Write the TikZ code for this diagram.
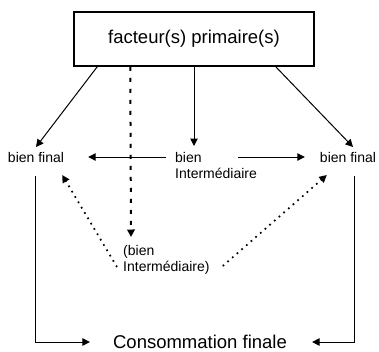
\documentclass[tikz,border=0pt]{standalone}
\usepackage{fontspec}
\setmainfont{Liberation Sans}
\usetikzlibrary{arrows.meta}
\begin{document}
\begin{tikzpicture}[x=1pt,y=-1pt,
  big/.style={font=\fontsize{18.5}{22}\selectfont},
  small/.style={font=\fontsize{14}{16}\selectfont, inner sep=0pt, align=left},
  mainbox/.style={draw, line width=1.5pt, minimum width=240pt, minimum height=54pt, inner sep=0pt},
  arr/.style={line width=1pt, -{Triangle[length=7.5pt,width=7.5pt]}},
  dashedarr/.style={line width=2pt, dash pattern=on 4pt off 7pt, -{Triangle[length=7.5pt,width=7.5pt]}},
  dotarr/.style={line width=1.7pt, dash pattern=on 1.7pt off 4.5pt, -{Triangle[length=7.5pt,width=7.5pt]}}]
\useasboundingbox (0,0) rectangle (379,351);
\node[mainbox, big] (P) at (194,39) {facteur(s) primaire(s)};
\node[small, anchor=base] (bfL) at (36,162.5) {bien final};
\node[small, anchor=base] (bfR) at (348,162.5) {bien final};
\node[small, anchor=base west] (bi) at (175,178.5) {bien\\Intermédiaire};
\node[small, anchor=base west] (bi2) at (123,271) {(bien\\Intermédiaire)};
\node[big, inner sep=0pt, anchor=base] (CF) at (200,348.5) {Consommation finale};
\coordinate (biTop) at ([yshift=32.5pt]bi.base west);
% solid arrows from the box
\draw[arr] ([xshift=24pt]P.south west) -- ([yshift=15.5pt]bfL.base);
\draw[arr] ([xshift=-39pt]P.south east) -- ([shift={(5pt,15.5pt)}]bfR.base);
\draw[arr] (P.south) -- (P.south |- biTop);
% dashed arrow
\draw[dashedarr] ([xshift=57pt]P.south west) -- ([shift={(8pt,34pt)}]bi2.base west);
% horizontal arrows
\draw[arr] ([shift={(-9pt,21.5pt)}]bi.base west) -- ([shift={(24pt,5.5pt)}]bfL.base east);
\draw[arr] ([shift={(-19pt,21.5pt)}]bi.base east) -- ([shift={(-15pt,5.5pt)}]bfR.base west);
% dotted arrows
\draw[dotarr] ([shift={(-6pt,4pt)}]bi2.base west) -- ([shift={(-2pt,-12.5pt)}]bfL.base east);
\draw[dotarr] ([shift={(13pt,5pt)}]bi2.base east) -- ([shift={(7pt,-12.5pt)}]bfR.base west);
% to final consumption
\draw[arr] ([shift={(-1pt,-13pt)}]bfL.base) |- ([shift={(-23pt,6.5pt)}]CF.base west);
\draw[arr] ([shift={(6pt,-13pt)}]bfR.base) |- ([shift={(25pt,6.5pt)}]CF.base east);
\end{tikzpicture}
\end{document}
